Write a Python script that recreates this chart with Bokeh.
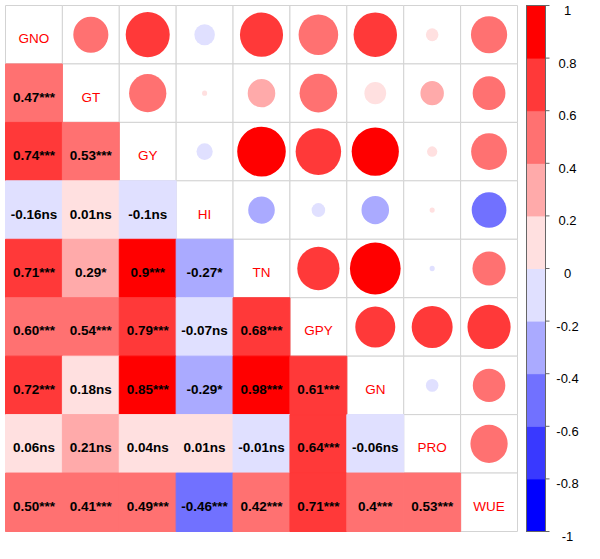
import numpy as np
from bokeh.plotting import figure
from bokeh.models import Range1d, ColumnDataSource
from bokeh.transform import linear_cmap
from bokeh.core.properties import value
from bokeh.embed import file_html
from bokeh.resources import INLINE

# ---------------- data ----------------
variables = ["GNO", "GT", "GY", "HI", "TN", "GPY", "GN", "PRO", "WUE"]

# lower-triangle correlations: row k is variable k+1 against variables 0..k
corr_rows = [
    [0.47],
    [0.74, 0.53],
    [-0.16, 0.01, -0.10],
    [0.71, 0.29, 0.90, -0.27],
    [0.598, 0.54, 0.79, -0.07, 0.68],
    [0.72, 0.18, 0.85, -0.29, 0.98, 0.61],
    [0.06, 0.21, 0.04, 0.01, -0.01, 0.64, -0.06],
    [0.50, 0.41, 0.49, -0.46, 0.42, 0.71, 0.404, 0.53],
]
label_rows = [
    ["0.47***"],
    ["0.74***", "0.53***"],
    ["-0.16ns", "0.01ns", "-0.1ns"],
    ["0.71***", "0.29*", "0.9***", "-0.27*"],
    ["0.60***", "0.54***", "0.79***", "-0.07ns", "0.68***"],
    ["0.72***", "0.18ns", "0.85***", "-0.29*", "0.98***", "0.61***"],
    ["0.06ns", "0.21ns", "0.04ns", "0.01ns", "-0.01ns", "0.64***", "-0.06ns"],
    ["0.50***", "0.41***", "0.49***", "-0.46***", "0.42***", "0.71***", "0.4***", "0.53***"],
]

palette = ["#0000FF", "#3939FF", "#7171FF", "#AAAAFF", "#E0E0FF",
           "#FFE0E0", "#FFAAAA", "#FF7171", "#FF3939", "#FF0000"]
cb_ticks = [1, 0.8, 0.6, 0.4, 0.2, 0, -0.2, -0.4, -0.6, -0.8, -1]
cb_tick_labels = ["1", "0.8", "0.6", "0.4", "0.2", "0", "-0.2", "-0.4", "-0.6", "-0.8", "-1"]

# ---------------- layout constants ----------------
W, H = 584, 543
n = len(variables)
PAD_L, PAD_T = 5, 5
GRID_W, GRID_H = 512, 526
cw = GRID_W / n
ch = GRID_H / n
x_start = -PAD_L / cw
x_end = (W - PAD_L) / cw
y_end = n + PAD_T / ch
y_start = n - (H - PAD_T) / ch

FONT = value("Liberation Sans")
GRID_COLOR = "#D3D3D3"

cmap = linear_cmap("r", palette, -1, 1)

# ---------------- sources ----------------
all_x, all_y = [], []
for i in range(n):
    for j in range(n):
        all_x.append(j + 0.5)
        all_y.append(n - 0.5 - i)
cells = ColumnDataSource(dict(x=all_x, y=all_y))

lx, ly, lr, lt = [], [], [], []
ux, uy, ur, ud = [], [], [], []
for k, (row, labs) in enumerate(zip(corr_rows, label_rows)):
    i = k + 1
    for j, (r, t) in enumerate(zip(row, labs)):
        lx.append(j + 0.5)
        ly.append(n - 0.5 - i)
        lr.append(r)
        lt.append(t)
        # mirrored position in upper triangle
        ux.append(i + 0.5)
        uy.append(n - 0.5 - j)
        ur.append(r)
        ud.append(0.9 * np.sqrt(abs(r)))
lower = ColumnDataSource(dict(x=lx, y=ly, r=lr, t=lt))
upper = ColumnDataSource(dict(x=ux, y=uy, r=ur, d=ud))
diag = ColumnDataSource(dict(x=[k + 0.5 for k in range(n)],
                             y=[n - 0.5 - k for k in range(n)],
                             t=variables))

edges = np.linspace(-1, 1, len(palette) + 1)
cb_src = ColumnDataSource(dict(y=list((edges[:-1] + edges[1:]) / 2),
                               h=list(np.diff(edges)),
                               c=palette))
cb_lab = ColumnDataSource(dict(y=cb_ticks, t=cb_tick_labels))

# ---------------- figure ----------------
p = figure(width=W, height=H,
           x_range=Range1d(x_start, x_end), y_range=Range1d(y_start, y_end),
           output_backend="svg", toolbar_location=None,
           x_axis_location=None, y_axis_location=None,
           min_border=0, outline_line_color=None,
           background_fill_color="white", border_fill_color="white")
p.grid.visible = False
p.extra_y_ranges = {"cb": Range1d(y_start * 2 / n - 1, y_end * 2 / n - 1)}

# cells
p.rect("x", "y", width=1, height=1, source=cells,
       fill_color="white", line_color=GRID_COLOR, line_width=1)
p.rect("x", "y", width=1, height=1, source=lower,
       fill_color=cmap, line_color=cmap, line_width=1)
p.ellipse("x", "y", width="d", height="d", source=upper,
          fill_color=cmap, line_color=None)

p.text("x", "y", text="t", source=lower, text_font=FONT, text_font_style="bold",
       text_font_size="13.5px", text_color="black",
       text_align="center", text_baseline="middle", y_offset=4)
p.text("x", "y", text="t", source=diag, text_font=FONT,
       text_font_size="13.5px", text_color="#FF0000",
       text_align="center", text_baseline="middle", y_offset=4)

# colour bar
bar_left = (526 - PAD_L) / cw
bar_w = 19 / cw
p.rect(x=bar_left + bar_w / 2, y="y", width=bar_w, height="h", source=cb_src,
       fill_color="c", line_color="c", y_range_name="cb")
p.rect(x=bar_left + bar_w / 2, y=0, width=bar_w, height=2,
       fill_color=None, line_color="#666666", line_width=1, y_range_name="cb")
p.segment(x0=bar_left + bar_w, x1=bar_left + bar_w + 4 / cw, y0="y", y1="y",
          source=cb_lab, line_color="#666666", line_width=1, y_range_name="cb")
p.text(x=(567 - PAD_L) / cw, y="y", text="t", source=cb_lab, text_font=FONT,
       text_font_size="13px", text_color="black",
       text_align="center", text_baseline="middle", y_offset=5,
       y_range_name="cb")

open("out.html", "w").write(file_html(p, INLINE))
